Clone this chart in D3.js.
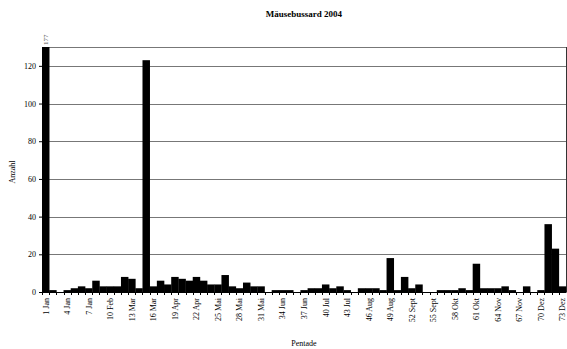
<!DOCTYPE html>
<html><head><meta charset="utf-8">
<script src="https://cdn.jsdelivr.net/npm/d3@7"></script>
<style>body{margin:0;background:#fff}svg{display:block}text{font-family:"Liberation Serif","Times New Roman",serif;fill:#000}</style>
</head><body><svg id="c" width="567" height="349"></svg>
<script>
const title = "Mäusebussard 2004";
const pentades = d3.range(1, 74);
const values = [177,1,0,1,2,3,2,6,3,3,3,8,7,2,123,3,6,4,8,7,6,8,6,4,4,9,3,2,5,3,3,0,1,1,1,0,1,2,2,4,2,3,1,0,2,2,2,1,18,1,8,2,4,0,0,1,1,1,2,1,15,2,2,2,3,1,0,3,0,1,36,23,3];
const tickLabels = {1:"1 Jan",4:"4 Jan",7:"7 Jan",10:"10 Feb",13:"13 Mar",16:"16 Mar",19:"19 Apr",22:"22 Apr",25:"25 Mai",28:"28 Mai",31:"31 Mai",34:"34 Jun",37:"37 Jun",40:"40 Jul",43:"43 Jul",46:"46 Aug",49:"49 Aug",52:"52 Sept",55:"55 Sept",58:"58 Okt",61:"61 Okt",64:"64 Nov",67:"67 Nov",70:"70 Dez",73:"73 Dez"};
const yTicks = [0,20,40,60,80,100,120];
const yMax = 130;

const svg = d3.select("#c");
const m = {l:42, r:566, t:47, b:292};
const x = d3.scaleBand().domain(pentades).range([m.l, m.r]).padding(0);
const y = d3.scaleLinear().domain([0, yMax]).range([m.b, m.t]);

// gridlines
svg.append("g").selectAll("line").data(yTicks.filter(d=>d>0).concat([yMax])).join("line")
  .attr("x1", m.l).attr("x2", m.r).attr("y1", d=>Math.round(y(d))+0.5).attr("y2", d=>Math.round(y(d))+0.5)
  .attr("stroke", "#777").attr("stroke-width", 1);
// right border
svg.append("line").attr("x1", m.r+0.5).attr("x2", m.r+0.5).attr("y1", m.t).attr("y2", m.b).attr("stroke","#333");

// bars
svg.append("g").selectAll("rect").data(values).join("rect")
  .attr("x", (d,i)=>x(pentades[i])).attr("width", x.bandwidth()+0.3)
  .attr("y", d=>y(Math.min(d, yMax))).attr("height", d=>y(0)-y(Math.min(d, yMax)))
  .attr("fill", "#000");

// clipped value label
values.forEach((v,i)=>{
  if (v > yMax) {
    const cx = x(pentades[i]) + x.bandwidth()/2;
    svg.append("text").attr("transform", `translate(${cx+2.5},${m.t-2}) rotate(-90)`)
      .attr("font-size", 7).style("fill","#555").text(v);
  }
});

// y axis
const ya = d3.axisLeft(y).tickValues(yTicks).tickSize(3).tickSizeOuter(0);
const gy = svg.append("g").attr("transform", `translate(${m.l},0)`).call(ya);
gy.select(".domain").attr("stroke","#000");
gy.selectAll("text").attr("font-size", 8).attr("font-family","Liberation Serif").style("fill","#000");

// x axis
const xa = d3.axisBottom(x).tickValues([]).tickSize(0);
const gx = svg.append("g").attr("transform", `translate(0,${m.b})`).call(xa);
gx.select(".domain").attr("stroke","#000");
gx.selectAll("line.bt").data(pentades).join("line").attr("class","bt")
  .attr("x1", d=>Math.round(x(d))+0.5).attr("x2", d=>Math.round(x(d))+0.5).attr("y1",0).attr("y2",3).attr("stroke","#000");
gx.selectAll("text.xl").data(pentades.filter(p=>tickLabels[p])).join("text").attr("class","xl")
  .attr("transform", d=>`translate(${x(d)+x.bandwidth()/2+3},6) rotate(-90)`)
  .attr("text-anchor","end").attr("font-size", 8).style("fill","#000").text(d=>tickLabels[d]);

// titles
svg.append("text").attr("x", 304).attr("y", 17).attr("text-anchor","middle").attr("font-size", 9).attr("font-weight","bold").style("fill","#000").text(title);
svg.append("text").attr("x", 304).attr("y", 346).attr("text-anchor","middle").attr("font-size", 8).style("fill","#000").text("Pentade");
svg.append("text").attr("transform", "translate(15,172) rotate(-90)").attr("text-anchor","middle").attr("font-size", 8).style("fill","#000").text("Anzahl");
</script></body></html>
